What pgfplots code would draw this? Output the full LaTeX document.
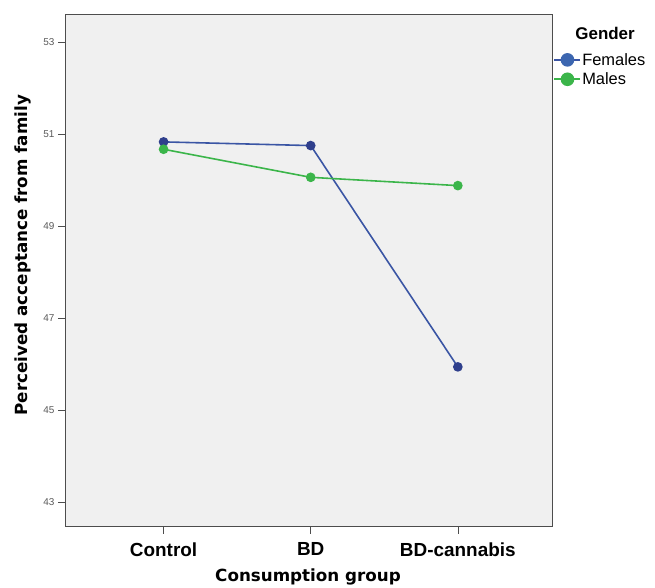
\documentclass[border=0pt]{standalone}
\usepackage{pgfplots}
\pgfplotsset{compat=1.18}
\usepackage{fontspec}
\setmainfont{Liberation Sans}
\newfontfamily\axfont{DejaVu Sans}
\definecolor{fem}{HTML}{3A55A4}
\definecolor{femm}{HTML}{2F3F8C}
\definecolor{feml}{HTML}{3C66B0}
\definecolor{mal}{HTML}{3BB54A}
\definecolor{bg}{HTML}{F0F0F0}
\definecolor{frm}{HTML}{4D4D4D}
\begin{document}
\begin{tikzpicture}
\begin{axis}[
 clip=false,
 scale only axis, width=487bp, height=513bp,
 xmin=-0.67, xmax=2.64, ymin=42.46, ymax=53.61,
 xtick={0,1,2}, xticklabels={Control,BD,BD-cannabis},
 ytick={43,45,47,49,51,53},
 /pgf/number format/assume math mode=true,
 axis background/.style={fill=bg},
 axis line style={frm, line width=1pt},
 tick style={frm, line width=0.6pt},
 tick align=outside, major tick length=7bp,
 xtick pos=bottom, ytick pos=left,
 x tick label style={font=\fontsize{19}{19}\selectfont\bfseries, yshift=-5bp},
 y tick label style={font=\fontsize{10}{10}\selectfont, text=black!65},
 xlabel={Consumption group},
 ylabel={Perceived acceptance from family},
 xlabel style={at={(axis description cs:0.499,-0.097)}, anchor=center, font=\axfont\bfseries\fontsize{16.8}{16.8}\selectfont},
 ylabel style={at={(axis description cs:-0.086,0.53)}, anchor=center, rotate=0, font=\axfont\bfseries\fontsize{16.8}{16.8}\selectfont},
 legend style={at={(axis description cs:1.003,0.926)}, anchor=north west, draw=none, fill=none,
   font=\fontsize{16.5}{18}\selectfont, inner sep=0pt, row sep=4bp,
   nodes={inner sep=1bp}},
 legend cell align=left,
 legend image code/.code={\draw[#1, mark repeat=2, mark phase=2, mark size=6bp] plot coordinates {(0bp,0bp)(13bp,0bp)(26bp,0bp)};},
]
\addplot[fem, line width=1.6pt, mark=*, mark size=4bp, mark options={fill=femm, draw=femm}, forget plot]
 coordinates {(0,50.83) (1,50.75) (2,45.94)};
\addplot[mal, line width=1.6pt, mark=*, mark size=4bp, mark options={fill=mal, draw=mal}, forget plot]
 coordinates {(0,50.67) (1,50.06) (2,49.88)};
\addlegendimage{fem, line width=1.6pt, mark=*, mark options={fill=feml, draw=feml}}
\addlegendentry{Females}
\addlegendimage{mal, line width=1.6pt, mark=*, mark options={fill=mal, draw=mal}}
\addlegendentry{Males}
\node[font=\bfseries\fontsize{17}{17}\selectfont] at (axis description cs:1.109,0.963) {Gender};
\coordinate (bl) at (rel axis cs:-0.1335,-0.1189);
\coordinate (tr) at (rel axis cs:1.2115,1.0273);
\end{axis}
\pgfresetboundingbox
\path[use as bounding box] (bl) rectangle (tr);
\end{tikzpicture}
\end{document}
